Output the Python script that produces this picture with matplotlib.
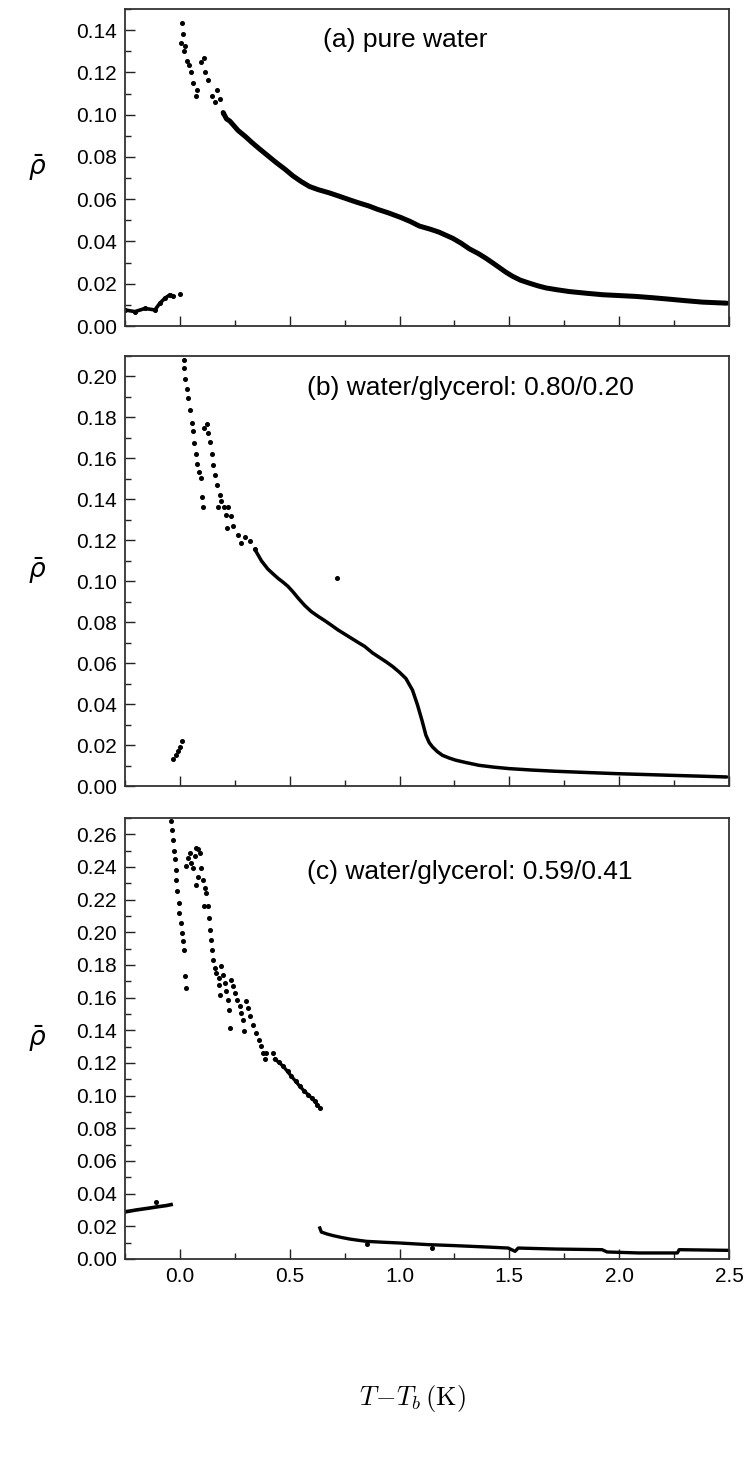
import matplotlib
matplotlib.use("Agg")
import matplotlib.pyplot as plt
from matplotlib.ticker import MultipleLocator

plt.rcParams['font.family'] = ['Liberation Sans', 'DejaVu Sans']

# ---------------- data: panel (a) pure water ----------------
a_low_x = [-0.25, -0.205, -0.159, -0.114, -0.091, -0.068, -0.045, -0.03]
a_low_y = [0.0076, 0.0068, 0.0083, 0.0076, 0.0108, 0.0132, 0.0148, 0.0140]
a_iso_x = [0.0]
a_iso_y = [0.0152]
a_sc_x = [0.0077, 0.015, 0.005, 0.023, 0.020, 0.032, 0.041, 0.049, 0.060, 0.073,
          0.080, 0.095, 0.110, 0.114, 0.126, 0.147, 0.159, 0.167, 0.182, 0.197]
a_sc_y = [0.1435, 0.138, 0.134, 0.1327, 0.130, 0.1254, 0.1235, 0.120, 0.1148, 0.1089,
          0.1116, 0.125, 0.127, 0.1203, 0.1164, 0.109, 0.106, 0.1116, 0.1076, 0.101]
a_dense_x = [0.197, 0.212, 0.227, 0.265, 0.30, 0.326, 0.36, 0.40, 0.44, 0.477,
             0.515, 0.553, 0.59, 0.63, 0.68, 0.72, 0.77, 0.81, 0.86, 0.90,
             0.95, 1.007, 1.05, 1.09, 1.14, 1.18, 1.242, 1.28, 1.318, 1.36,
             1.394, 1.425, 1.455, 1.485, 1.515, 1.55, 1.59, 1.63, 1.667, 1.72,
             1.773, 1.85, 1.924, 2.0, 2.076, 2.15, 2.227, 2.30, 2.379, 2.49]
a_dense_y = [0.101, 0.098, 0.097, 0.0925, 0.0895, 0.087, 0.084, 0.0806, 0.0772, 0.0743,
             0.071, 0.0683, 0.066, 0.0645, 0.063, 0.0616, 0.0598, 0.0584, 0.0568, 0.0552,
             0.0535, 0.0513, 0.0494, 0.0473, 0.0458, 0.0444, 0.0415, 0.0392, 0.0365, 0.0342,
             0.0320, 0.0298, 0.0276, 0.0254, 0.0235, 0.0217, 0.0203, 0.0190, 0.0180, 0.0171,
             0.0163, 0.0155, 0.0148, 0.0144, 0.0140, 0.0134, 0.0127, 0.0120, 0.0113, 0.0108]

# ---------------- data: panel (b) water/glycerol 0.80/0.20 ----------------
b_low_x = [-0.03, -0.02, -0.01, 0.0, 0.011]
b_low_y = [0.013, 0.015, 0.017, 0.019, 0.022]
b_sc_x = [0.017, 0.020, 0.024, 0.032, 0.036, 0.044, 0.053, 0.059, 0.065, 0.071,
          0.077, 0.085, 0.098, 0.100, 0.105,
          0.110, 0.123, 0.129, 0.136, 0.144, 0.152, 0.159, 0.171, 0.182, 0.189,
          0.174, 0.200, 0.220, 0.212, 0.232, 0.215, 0.242, 0.265, 0.280, 0.298,
          0.318, 0.341, 0.715]
b_sc_y = [0.208, 0.204, 0.1987, 0.194, 0.1896, 0.1836, 0.1775, 0.1735, 0.1674, 0.1622,
          0.1574, 0.1534, 0.1502, 0.1413, 0.1362,
          0.1748, 0.1767, 0.1722, 0.168, 0.1622, 0.1566, 0.1518, 0.147, 0.1421, 0.139,
          0.1365, 0.1365, 0.1362, 0.1325, 0.1317, 0.126, 0.1268, 0.1228, 0.1188, 0.1217,
          0.1196, 0.1156, 0.1016]
b_dense_x = [0.341, 0.371, 0.40, 0.425, 0.447, 0.47, 0.492, 0.515, 0.538, 0.568,
             0.598, 0.63, 0.659, 0.69, 0.72, 0.75, 0.78, 0.81, 0.841, 0.877,
             0.908, 0.938, 0.968, 0.998, 1.029, 1.059, 1.082, 1.102, 1.12, 1.135,
             1.15, 1.172, 1.195, 1.225, 1.256, 1.30, 1.362, 1.43, 1.498, 1.60,
             1.71, 1.85, 1.995, 2.12, 2.24, 2.37, 2.49]
b_dense_y = [0.1156, 0.110, 0.106, 0.1035, 0.1014, 0.0995, 0.0975, 0.0948, 0.0918, 0.0882,
             0.0852, 0.0828, 0.0808, 0.0785, 0.0762, 0.0742, 0.0722, 0.0702, 0.0682, 0.0650,
             0.0628, 0.0607, 0.0584, 0.0557, 0.0525, 0.0468, 0.0395, 0.0321, 0.0248, 0.0212,
             0.0191, 0.0168, 0.0150, 0.0137, 0.0126, 0.0115, 0.0101, 0.0092, 0.0085, 0.0078,
             0.0072, 0.0066, 0.0060, 0.0056, 0.0052, 0.0048, 0.0044]

# ---------------- data: panel (c) water/glycerol 0.59/0.41 ----------------
c_low_x = [-0.25, -0.20, -0.138, -0.10, -0.062, -0.04]
c_low_y = [0.0288, 0.0300, 0.0312, 0.0320, 0.0327, 0.0333]
c_lowout_x = [-0.108]
c_lowout_y = [0.0349]
c_sc_x = [-0.040, -0.035, -0.032, -0.029, -0.024, -0.020, -0.017, -0.012, -0.006, -0.002,
          0.003, 0.008, 0.012, 0.017, 0.024, 0.026,
          0.029, 0.036, 0.044, 0.052, 0.059, 0.067, 0.074, 0.082, 0.090, 0.071,
          0.082, 0.097, 0.105, 0.112, 0.120, 0.108, 0.128, 0.131, 0.138, 0.141,
          0.146, 0.150, 0.158, 0.166, 0.178, 0.188, 0.196, 0.204, 0.176, 0.181,
          0.211, 0.219, 0.223, 0.226, 0.234, 0.242, 0.249, 0.260, 0.272, 0.280,
          0.287, 0.290, 0.299, 0.310, 0.321, 0.333, 0.345, 0.360, 0.371, 0.378,
          0.386, 0.394, 0.424]
c_sc_y = [0.268, 0.2624, 0.2567, 0.2496, 0.2449, 0.2384, 0.2322, 0.2251, 0.218, 0.2118,
          0.2057, 0.1996, 0.1945, 0.189, 0.173, 0.1659,
          0.2404, 0.2455, 0.2486, 0.2424, 0.2394, 0.2465, 0.2516, 0.251, 0.2486, 0.2292,
          0.2339, 0.2394, 0.2322, 0.2271, 0.2241, 0.2163, 0.2159, 0.2088, 0.2016, 0.1955,
          0.1894, 0.1833, 0.1782, 0.1751, 0.172, 0.1792, 0.1741, 0.169, 0.168, 0.1618,
          0.1639, 0.1588, 0.1522, 0.1414, 0.171, 0.1669, 0.1629, 0.1588, 0.1547, 0.1506,
          0.1465, 0.1398, 0.1578, 0.1537, 0.1486, 0.1435, 0.1384, 0.1343, 0.1302, 0.1261,
          0.1224, 0.1261, 0.1261]
c_mid_x = [0.432, 0.45, 0.47, 0.49, 0.508, 0.527, 0.546, 0.565, 0.584, 0.60, 0.614, 0.626, 0.637]
c_mid_y = [0.1224, 0.1205, 0.118, 0.1148, 0.1118, 0.1088, 0.1057, 0.1030, 0.1006, 0.0985, 0.0965, 0.0945, 0.0924]
c_tail_x = [0.637, 0.644, 0.67, 0.698, 0.735, 0.774, 0.81, 0.85, 0.92, 1.0, 1.13, 1.25, 1.404, 1.495,
            1.526, 1.54, 1.709, 1.922, 1.945, 2.09, 2.265, 2.273, 2.5]
c_tail_y = [0.019, 0.0165, 0.0153, 0.0143, 0.0132, 0.0122, 0.0115, 0.0108, 0.0103, 0.0098, 0.0088, 0.0082, 0.0073, 0.0067,
            0.0047, 0.0067, 0.0061, 0.0057, 0.0043, 0.0037, 0.0037, 0.0057, 0.0053]
c_out_x = [0.85, 1.15]
c_out_y = [0.009, 0.0067]

labels = ["(a) pure water", "(b) water/glycerol: 0.80/0.20", "(c) water/glycerol: 0.59/0.41"]
ylims = [0.15, 0.21, 0.27]

# ---------------- figure ----------------
W, H = 746, 1462
fig = plt.figure(figsize=(W / 100, H / 100), dpi=100)

def frac(top, bottom):
    return [125 / W, 1 - bottom / H, 604 / W, (bottom - top) / H]

axa = fig.add_axes(frac(9, 326))
axb = fig.add_axes(frac(356, 786))
axc = fig.add_axes(frac(818, 1259))
axes = [axa, axb, axc]

dot = dict(ls='none', marker='o', ms=2.6, color='black', mec='black')

# panel a
axa.plot(a_low_x, a_low_y, color='black', lw=2.6, marker='o', ms=2.6)
axa.plot(a_iso_x, a_iso_y, **dot)
axa.plot(a_sc_x, a_sc_y, **dot)
axa.plot(a_dense_x, a_dense_y, color='black', lw=3.6, solid_capstyle='round',
         solid_joinstyle='round')

# panel b
axb.plot(b_low_x, b_low_y, **dot)
axb.plot(b_sc_x, b_sc_y, **dot)
axb.plot(b_dense_x, b_dense_y, color='black', lw=2.5, solid_capstyle='round',
         solid_joinstyle='round')

# panel c
axc.plot(c_low_x, c_low_y, color='black', lw=2.6)
axc.plot(c_lowout_x, c_lowout_y, **dot)
axc.plot(c_sc_x, c_sc_y, **dot)
axc.plot(c_mid_x, c_mid_y, color='black', lw=2.4, marker='o', ms=2.6)
axc.plot(c_tail_x, c_tail_y, color='black', lw=2.4, solid_joinstyle='round')
axc.plot(c_out_x, c_out_y, **dot)

for ax, lab, yl in zip(axes, labels, ylims):
    ax.set_xlim(-0.25, 2.5)
    ax.set_ylim(0, yl)
    ax.xaxis.set_major_locator(MultipleLocator(0.5))
    ax.xaxis.set_minor_locator(MultipleLocator(0.25))
    ax.yaxis.set_major_locator(MultipleLocator(0.02))
    ax.yaxis.set_minor_locator(MultipleLocator(0.01))
    ax.yaxis.set_major_formatter(matplotlib.ticker.FormatStrFormatter('%.2f'))
    ax.xaxis.set_major_formatter(matplotlib.ticker.FormatStrFormatter('%.1f'))
    ax.tick_params(which='both', direction='in', top=False, right=False,
                   color='#222222', width=1.0, labelsize=15, pad=6)
    ax.tick_params(which='major', length=7)
    ax.tick_params(which='minor', length=4)
    for s in ax.spines.values():
        s.set_linewidth(1.3)
        s.set_color('#333333')
    ax.set_ylabel(r'$\bar{\rho}$', rotation=0, fontsize=19, labelpad=28, va='center')

axa.tick_params(labelbottom=False)
axb.tick_params(labelbottom=False)

fig.text(323 / W, 1 - 40 / H, labels[0], fontsize=19, va='center', ha='left')
fig.text(307 / W, 1 - 388 / H, labels[1], fontsize=19, va='center', ha='left')
fig.text(307 / W, 1 - 872 / H, labels[2], fontsize=19, va='center', ha='left')

fig.text(412 / W, 1 - 1398 / H, r'$T\!-\!T_b\,(\mathrm{K})$', fontsize=19,
         ha='center', va='center', math_fontfamily='cm')

fig.savefig('out.png', dpi=100)
